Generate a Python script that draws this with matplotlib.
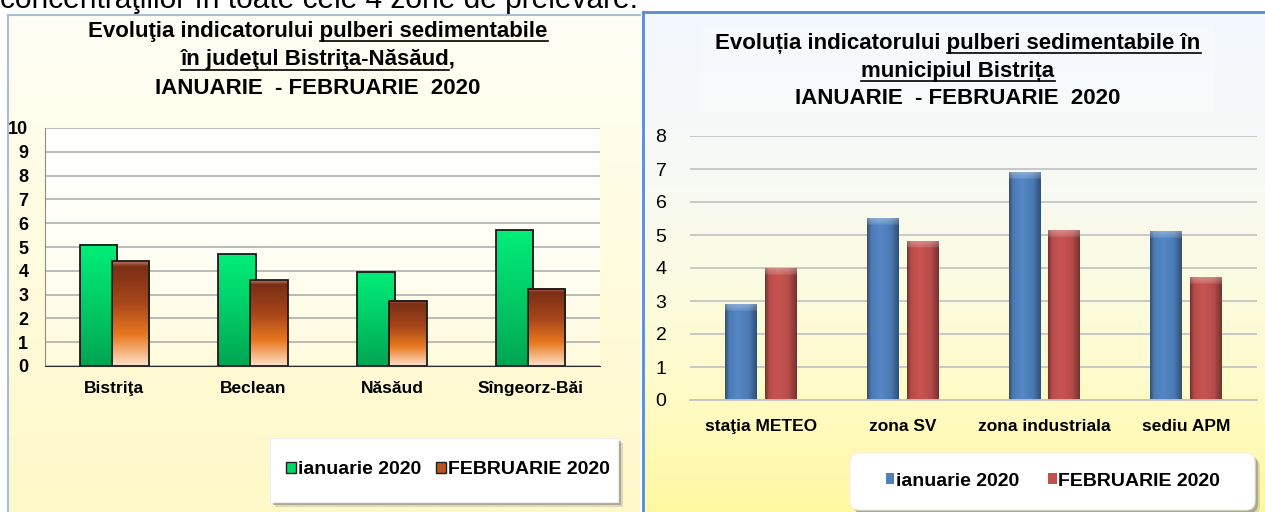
import numpy as np
import matplotlib.pyplot as plt
from matplotlib.patches import Patch, Rectangle, FancyBboxPatch
from matplotlib.lines import Line2D
from matplotlib.colors import to_rgb

plt.rcParams['font.family'] = ['Liberation Sans', 'DejaVu Sans']

# data
judet_labels = ['Bistriţa', 'Beclean', 'Năsăud', 'Sîngeorz-Băi']
judet_ian = [5.1, 4.7, 3.95, 5.7]
judet_feb = [4.4, 3.6, 2.75, 3.25]

mun_labels = ['staţia METEO', 'zona SV', 'zona industriala', 'sediu APM']
mun_ian = [2.9, 5.5, 6.9, 5.1]
mun_feb = [4.0, 4.8, 5.15, 3.7]

series = ['ianuarie 2020', 'FEBRUARIE 2020']

W, H = 1265, 512
fig = plt.figure(figsize=(W / 100, H / 100), dpi=100)


def fx(px):
    return px / W


def fy(py):
    return 1 - py / H


def px_axes(x0, y0, x1, y1):
    return fig.add_axes([x0 / W, 1 - y1 / H, (x1 - x0) / W, (y1 - y0) / H])


def vgrad(stops, n=256):
    pos = [s[0] for s in stops]
    cols = np.array([to_rgb(s[1]) for s in stops])
    t = np.linspace(0, 1, n)
    img = np.stack([np.interp(t, pos, cols[:, k]) for k in range(3)], axis=-1)
    return img[:, None, :]


def gradient_bg(x0, y0, x1, y1, stops):
    ax = px_axes(x0, y0, x1, y1)
    ax.imshow(vgrad(stops), aspect='auto', extent=[0, 1, 0, 1])
    ax.set_axis_off()
    return ax


def fill_bar(ax, bar, img, z):
    x, y = bar.get_xy()
    w, h = bar.get_width(), bar.get_height()
    ax.imshow(img, extent=[x, x + w, y, y + h], aspect='auto', zorder=z,
              interpolation='bilinear')
    bar.set_zorder(z + 0.05)


def shaded_img(color, h, cap):
    # cylinder-like shading across the bar, lighter bevel on top
    base = np.array(to_rgb(color))
    n = 300
    cols = np.linspace(0, 1, 48)
    prof = np.interp(cols, [0, 0.12, 0.4, 0.75, 1], [0.62, 0.95, 1.05, 0.95, 0.62])
    img = np.clip(base[None, None, :] * prof[None, :, None] * np.ones((n, 1, 1)), 0, 1)
    ncap = max(2, int(round(n * cap / h)))
    fade = np.linspace(0.32, 0.12, ncap)[:, None, None]
    img[:ncap] = (1 - fade) * img[:ncap] + fade
    return img


def legend_box(x0, y0, x1, y1, rounded):
    style = 'round,pad=0,rounding_size=%g' % (9 / W) if rounded else 'square,pad=0'
    for off, col, a in [(5, '#808080', 0.25), (3, '#707070', 0.45)]:
        fig.add_artist(FancyBboxPatch((fx(x0 + off), fy(y1 + off)), (x1 - x0) / W,
                                      (y1 - y0) / H, boxstyle=style,
                                      transform=fig.transFigure, facecolor=col,
                                      alpha=a, edgecolor='none', mutation_aspect=W / H))
    fig.add_artist(FancyBboxPatch((fx(x0), fy(y1)), (x1 - x0) / W, (y1 - y0) / H,
                                  boxstyle=style, transform=fig.transFigure,
                                  facecolor='white', edgecolor='#EEEEEE', lw=0.8,
                                  mutation_aspect=W / H))


# top line of page text, cut by the crop
fig.text(fx(0), fy(8), 'concentraţiilor în toate cele 4 zone de prelevare.',
         fontsize=21.5, va='baseline', color='black')

# ---------------- left panel ----------------
gradient_bg(8, 15, 640, 512, [(0, '#FFFFF6'), (0.4, '#FFFCE2'), (1, '#FFF8C8')])
gradient_bg(45, 128, 600, 366, [(0, '#FFFFFF'), (0.5, '#FFFFF6'), (1, '#FFFBDC')])
fig.add_artist(Line2D([fx(8), fx(8)], [fy(15), fy(512)], color='#A9BED6', lw=1.5))
fig.add_artist(Line2D([fx(8), fx(640)], [fy(15), fy(15)], color='#A9BED6', lw=1.5))

axL = px_axes(45, 128, 600, 366)
axL.patch.set_alpha(0)
x = np.arange(len(judet_labels))
bw = 0.27
b1 = axL.bar(x - 0.115, judet_ian, bw, facecolor='none', edgecolor='#1A1A1A', lw=1.3)
b2 = axL.bar(x + 0.115, judet_feb, bw, facecolor='none', edgecolor='#1A1A1A', lw=1.3)
green = vgrad([(0, '#00EE78'), (0.5, '#00CC66'), (1, '#00A552')])
brown = vgrad([(0, '#C07A68'), (0.05, '#7A2E14'), (0.4, '#A8461A'), (0.7, '#E8781E'),
               (1, '#FFE2CC')])
for i, (p, q) in enumerate(zip(b1, b2)):
    fill_bar(axL, p, green, 2 + i * 0.2)
    fill_bar(axL, q, brown, 2.1 + i * 0.2)

axL.set_xlim(-0.5, 3.5)
axL.set_ylim(0, 10)
axL.set_yticks(range(11))
axL.set_xticks(x)
axL.set_xticklabels(judet_labels, fontsize=12.5, fontweight='bold')
axL.tick_params(axis='x', length=0, pad=11)
axL.tick_params(axis='y', length=0, pad=12, labelsize=13)
for lab in axL.get_yticklabels():
    lab.set_fontweight('bold')
axL.yaxis.grid(True, color='#A8A8A8', lw=1.1)
axL.set_axisbelow(True)
for s in ['top', 'right']:
    axL.spines[s].set_visible(False)
axL.spines['left'].set_color('#8C8C8C')
axL.spines['bottom'].set_color('#303030')

legend_box(270, 438, 618, 502, False)
fig.legend([Patch(facecolor='#00D866', edgecolor='#202020'),
            Patch(facecolor='#B8541E', edgecolor='#202020')], series,
           loc='center', bbox_to_anchor=(fx(448), fy(470)), ncol=2,
           prop={'size': 14, 'weight': 'bold'}, frameon=False,
           handlelength=0.5, handleheight=0.5, handletextpad=0.1,
           columnspacing=0.8, borderpad=0)

# ---------------- right panel ----------------
gradient_bg(643, 12, 1265, 512, [(0, '#F2F7FE'), (0.35, '#F8FAF4'), (0.7, '#FFFCD0'),
                                 (1, '#FFF8A2')])
fig.add_artist(Rectangle((fx(700), fy(112)), fx(1215) - fx(700), fy(25) - fy(112),
                         transform=fig.transFigure, facecolor='white', alpha=0.3,
                         edgecolor='none'))
fig.add_artist(Line2D([fx(643), fx(643)], [fy(12), fy(512)], color='#5B8BD0', lw=2))
fig.add_artist(Line2D([fx(643), fx(1265)], [fy(12), fy(12)], color='#5B8BD0', lw=2))

axR = px_axes(690, 136, 1257, 400)
axR.patch.set_alpha(0)
xr = np.arange(len(mun_labels))
bwr = 0.225
r1 = axR.bar(xr - 0.14, mun_ian, bwr, facecolor='none', edgecolor='none')
r2 = axR.bar(xr + 0.14, mun_feb, bwr, facecolor='none', edgecolor='none')
for p in r1:
    fill_bar(axR, p, shaded_img('#4F81BD', p.get_height(), 0.2), 2)
for q in r2:
    fill_bar(axR, q, shaded_img('#C0504D', q.get_height(), 0.2), 2)

axR.set_xlim(-0.5, 3.5)
axR.set_ylim(0, 8)
axR.set_yticks(range(9))
axR.set_xticks(xr)
axR.set_xticklabels(mun_labels, fontsize=12.5, fontweight='bold')
axR.tick_params(axis='x', length=0, pad=14)
axR.tick_params(axis='y', length=0, pad=17, labelsize=14)
axR.yaxis.grid(True, color='#C4C4C4', lw=1.3)
axR.set_axisbelow(True)
for s in ['top', 'right', 'left']:
    axR.spines[s].set_visible(False)
axR.spines['bottom'].set_color('#C4C4C4')
axR.spines['bottom'].set_linewidth(1.3)

legend_box(850, 453, 1255, 510, True)
fig.legend([Patch(facecolor='#4F81BD', edgecolor='none'),
            Patch(facecolor='#C0504D', edgecolor='none')], series,
           loc='center', bbox_to_anchor=(fx(1053), fy(481)), ncol=2,
           prop={'size': 14, 'weight': 'bold'}, frameon=False,
           handlelength=0.45, handleheight=0.45, handletextpad=0.1,
           columnspacing=1.45, borderpad=0)

# ---------------- titles with underlined parts ----------------
title_lines = [
    (318, 31, 'Evoluţia indicatorului pulberi sedimentabile', 23, 44),
    (318, 60, 'în judeţul Bistriţa-Năsăud,', 0, 26),
    (318, 88, 'IANUARIE  - FEBRUARIE  2020', 0, 0),
    (958, 43, 'Evoluția indicatorului pulberi sedimentabile în', 23, 47),
    (958, 71, 'municipiul Bistrița', 0, 19),
    (958, 99, 'IANUARIE  - FEBRUARIE  2020', 0, 0),
]
tprops = dict(fontsize=16, fontweight='bold')
texts = []
for xc, yc, s, a, b in title_lines:
    t = fig.text(fx(xc), fy(yc), s, ha='center', va='center', **tprops)
    texts.append((t, s, a, b))

fig.canvas.draw()
rend = fig.canvas.get_renderer()


def text_width(s):
    tmp = fig.text(0, 0, s, **tprops)
    w = tmp.get_window_extent(rend).width
    tmp.remove()
    return w


bar_w = text_width('|')
for t, s, a, b in texts:
    if b <= a:
        continue
    bb = t.get_window_extent(rend)
    x0 = bb.x0 + (text_width(s[:a] + '|') - bar_w if a > 0 else 0)
    x1 = bb.x0 + text_width(s[:b])
    y = bb.y0 + 1
    fig.add_artist(Line2D([x0 / W, x1 / W], [y / H, y / H], color='black', lw=1.2))

fig.savefig('out.png', dpi=100)
